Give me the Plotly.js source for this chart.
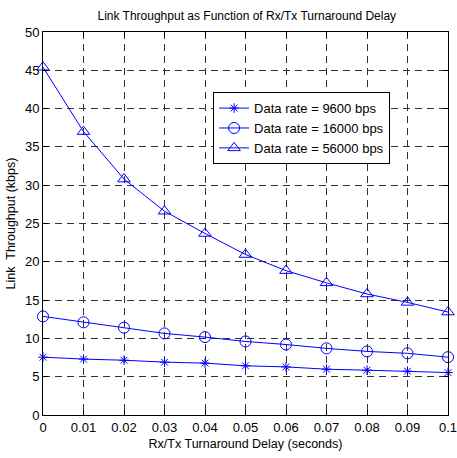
<!DOCTYPE html>
<html><head><meta charset="utf-8">
<script src="https://cdn.plot.ly/plotly-3.0.1.min.js"></script>
<style>html,body{margin:0;padding:0;background:#fff}#c{width:457px;height:458px}</style>
</head><body><div id="c"></div>
<script>
const delays = [0, 0.01, 0.02, 0.03, 0.04, 0.05, 0.06, 0.07, 0.08, 0.09, 0.1];
const rate9600 = [7.55, 7.3, 7.15, 6.9, 6.77, 6.42, 6.28, 5.98, 5.85, 5.72, 5.54];
const rate16000 = [12.87, 12.1, 11.4, 10.65, 10.17, 9.6, 9.2, 8.7, 8.3, 8.05, 7.55];
const rate56000 = [45.4, 37.0, 30.8, 26.6, 23.7, 20.95, 18.85, 17.25, 15.8, 14.7, 13.44];
const seriesNames = ['Data rate = 9600 bps', 'Data rate = 16000 bps', 'Data rate = 56000 bps'];
const xTicks = [0, 0.01, 0.02, 0.03, 0.04, 0.05, 0.06, 0.07, 0.08, 0.09, 0.1];
const xTickText = ['0', '0.01', '0.02', '0.03', '0.04', '0.05', '0.06', '0.07', '0.08', '0.09', '0.1'];
const yTicks = [0, 5, 10, 15, 20, 25, 30, 35, 40, 45, 50];

const blue = '#0000ff';
const font = 'Liberation Sans, Arial, sans-serif';
function tr(y, name, sym, size) {
  return {x: delays, y: y, name: name, type: 'scatter', mode: 'lines+markers',
    line: {color: blue, width: 1},
    marker: {symbol: sym, size: size, color: blue, line: {color: blue, width: 1}},
    cliponaxis: false};
}
const data = [
  tr(rate9600, seriesNames[0], 'asterisk-open', 8),
  tr(rate16000, seriesNames[1], 'circle-open', 11),
  tr(rate56000, seriesNames[2], 'triangle-up-open', 11)
];
const axisCommon = {
  showline: true, linecolor: '#000', linewidth: 1, mirror: 'ticks',
  ticks: 'inside', ticklen: 5, tickcolor: '#000',
  showgrid: true, gridcolor: '#333', gridwidth: 1, griddash: '7px,5px',
  zeroline: false, tickfont: {family: font, size: 13, color: '#000'},
  ticklabeloverflow: 'allow'
};
const layout = {
  width: 457, height: 458,
  margin: {l: 43, r: 9, t: 32, b: 43},
  paper_bgcolor: '#fff', plot_bgcolor: '#fff',
  title: {text: 'Link Throughput as Function of Rx/Tx Turnaround Delay',
    font: {family: font, size: 12, color: '#000'}, x: 0.54, xanchor: 'center', y: 0.965, yanchor: 'middle'},
  xaxis: Object.assign({}, axisCommon, {range: [0, 0.1], tickvals: xTicks, ticktext: xTickText,
    title: {text: 'Rx/Tx Turnaround Delay (seconds)', font: {family: font, size: 12.5, color: '#000'}, standoff: 5}}),
  yaxis: Object.assign({}, axisCommon, {range: [0, 50], tickvals: yTicks,
    title: {text: 'Link  Throughput (kbps)', font: {family: font, size: 12.5, color: '#000'}, standoff: 6}}),
  showlegend: true,
  legend: {x: 0.42, y: 0.843, xanchor: 'left', yanchor: 'top',
    bgcolor: '#fff', bordercolor: '#000', borderwidth: 1,
    font: {family: font, size: 13, color: '#000'}, tracegroupgap: 0}
};
Plotly.newPlot('c', data, layout, {staticPlot: true, displayModeBar: false});
</script></body></html>
